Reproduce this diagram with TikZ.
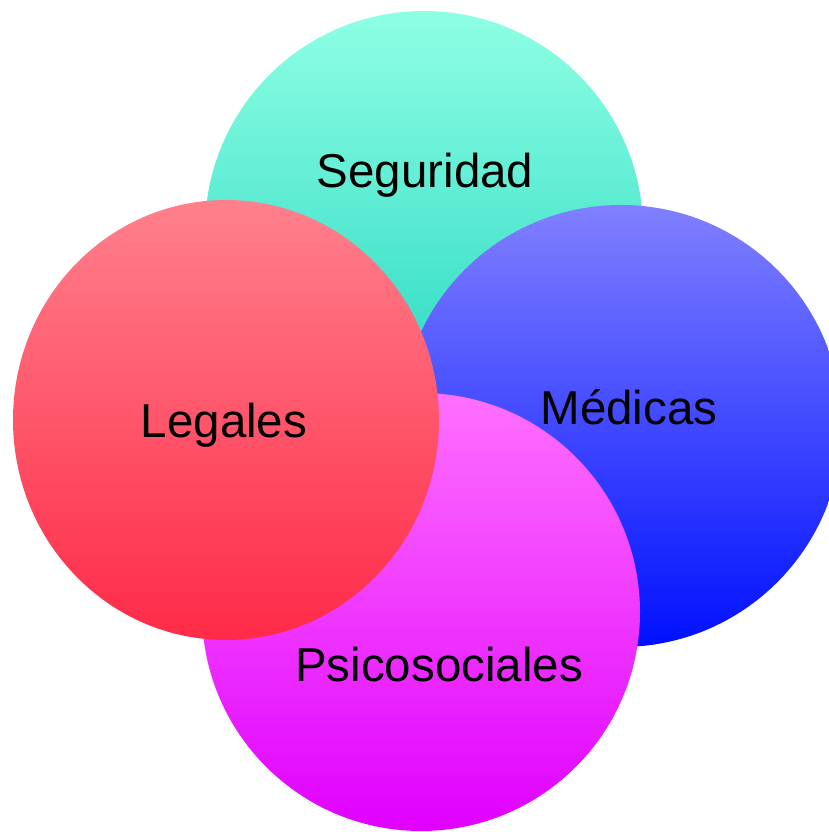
\documentclass[tikz,border=0pt]{standalone}
\usepackage{fontspec}
\setmainfont{Liberation Sans}
\usepackage{xcolor}
\usetikzlibrary{shapes.geometric}

\definecolor{segTop}{RGB}{142,255,228}
\definecolor{segBot}{RGB}{30,212,190}
\definecolor{medTop}{RGB}{128,128,255}
\definecolor{medBot}{RGB}{0,16,255}
\definecolor{psiTop}{RGB}{255,112,255}
\definecolor{psiBot}{RGB}{224,0,255}
\definecolor{legTop}{RGB}{255,128,140}
\definecolor{legBot}{RGB}{255,42,72}

\begin{document}
\begin{tikzpicture}[
  x=1pt, y=1pt,
  area/.style={circle, inner sep=0pt, outer sep=0pt, minimum size=438pt},
  tag/.style={anchor=base, inner sep=0pt, font=\fontsize{47.5}{56}\selectfont}
]
\useasboundingbox (0,0) rectangle (828,832);

% Circles, back to front
\node[area, top color=segTop, bottom color=segBot] (seg) at (424,602) {};
\node[area, minimum size=442pt, top color=medTop, bottom color=medBot] (med) at (621,406) {};
\node[area, top color=psiTop, bottom color=psiBot] (psi) at (421,220) {};
\node[ellipse, inner sep=0pt, minimum width=426pt, minimum height=440pt,
      top color=legTop, bottom color=legBot] (leg) at (226,412) {};

% Labels
\node[tag] (segLabel) at (425,644) {Seguridad};
\node[tag] (medLabel) at (629,407) {Médicas};
\node[tag] (legLabel) at (224,394) {Legales};
\node[tag] (psiLabel) at (439,150) {Psicosociales};

\end{tikzpicture}
\end{document}
